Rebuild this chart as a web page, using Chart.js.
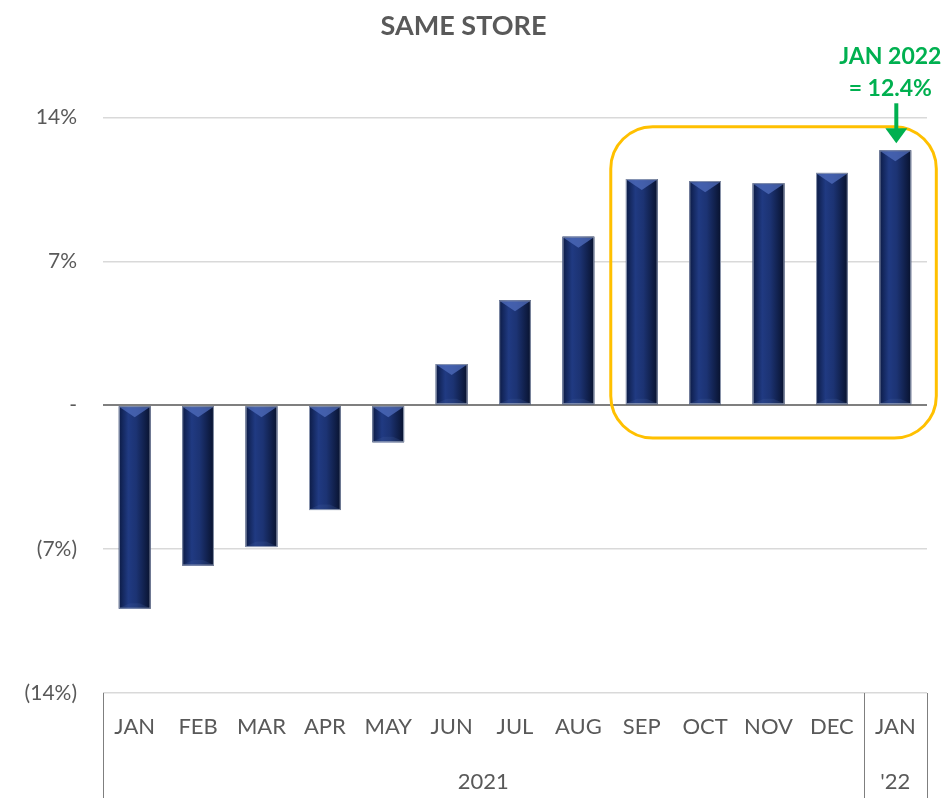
<!DOCTYPE html>
<html>
<head>
<meta charset="utf-8">
<script src="https://cdn.jsdelivr.net/npm/chart.js@4"></script>
<style>
    body { margin: 0; background: #ffffff; }
    #wrap { width: 948px; height: 798px; position: relative; }
</style>
</head>
<body>
<div id="wrap"><canvas id="sameStoreChart"></canvas></div>
<script>
const months = ["JAN", "FEB", "MAR", "APR", "MAY", "JUN", "JUL", "AUG", "SEP", "OCT", "NOV", "DEC", "JAN"];
const sameStore = [-9.9, -7.8, -6.9, -5.1, -1.8, 2.0, 5.1, 8.2, 11.0, 10.9, 10.8, 11.3, 12.4];
const yearLabels = ["2021", "'22"];
const yearStarts = [0, 12];
const yearEnds = [11, 12];
const yTicks = [-14, -7, 0, 7, 14];
const calloutLines = ["JAN 2022", "= 12.4%"];
const highlightFrom = 8;
const highlightTo = 12;

const FONT = "Lato, 'Open Sans', sans-serif";
const GREY_TEXT = "#595959";
const GREEN = "#00B050";

function formatPct(value) {
    if (value === 0) return "-";
    if (value < 0) return `(${Math.abs(value)}%)`;
    return `${value}%`;
}

// bar shading: dark edges, bevel triangle at the top end
const barShading = {
    id: "barShading",
    afterDatasetsDraw(chart) {
        const ctx = chart.ctx;
        const meta = chart.getDatasetMeta(0);

        meta.data.forEach((bar) => {
            const left = bar.x - bar.width / 2;
            const right = bar.x + bar.width / 2;
            const top = Math.min(bar.y, bar.base);
            const bottom = Math.max(bar.y, bar.base);

            const grad = ctx.createLinearGradient(left, 0, right, 0);
            grad.addColorStop(0, "#0C1B45");
            grad.addColorStop(0.3, "#203A82");
            grad.addColorStop(0.55, "#1C3373");
            grad.addColorStop(1, "#08122E");

            ctx.save();
            ctx.fillStyle = grad;
            ctx.fillRect(left, top, right - left, bottom - top);

            const bevel = Math.min(11, (bottom - top) / 2);

            // top bevel
            ctx.fillStyle = "rgba(80,110,190,0.75)";
            ctx.beginPath();
            ctx.moveTo(left + 1, top + 1);
            ctx.lineTo(right - 1, top + 1);
            ctx.lineTo(bar.x, top + bevel);
            ctx.closePath();
            ctx.fill();

            // bottom bevel, faint
            ctx.fillStyle = "rgba(70,95,160,0.22)";
            ctx.beginPath();
            ctx.moveTo(left + 1, bottom - 1);
            ctx.lineTo(right - 1, bottom - 1);
            ctx.lineTo(right - bevel, bottom - bevel * 0.5);
            ctx.lineTo(left + bevel, bottom - bevel * 0.5);
            ctx.closePath();
            ctx.fill();

            ctx.strokeStyle = "rgba(170,180,200,0.8)";
            ctx.lineWidth = 1;
            ctx.strokeRect(left + 0.5, top + 0.5, right - left - 1, bottom - top - 1);
            ctx.restore();
        });
    }
};

// year row and box lines under the month labels
const yearAxis = {
    id: "yearAxis",
    afterDraw(chart) {
        const ctx = chart.ctx;
        const x = chart.scales.x;
        const area = chart.chartArea;
        const step = x.getPixelForValue(1) - x.getPixelForValue(0);

        ctx.save();
        ctx.strokeStyle = "#7F7F7F";
        ctx.lineWidth = 1;

        const dividers = [x.getPixelForValue(0) - step / 2];
        yearEnds.forEach((end) => dividers.push(x.getPixelForValue(end) + step / 2));

        dividers.forEach((px) => {
            ctx.beginPath();
            ctx.moveTo(Math.round(px) + 0.5, area.bottom);
            ctx.lineTo(Math.round(px) + 0.5, chart.height);
            ctx.stroke();
        });

        ctx.fillStyle = GREY_TEXT;
        ctx.font = `22px ${FONT}`;
        ctx.textAlign = "center";
        ctx.textBaseline = "middle";

        yearLabels.forEach((label, i) => {
            const cx = (x.getPixelForValue(yearStarts[i]) + x.getPixelForValue(yearEnds[i])) / 2;
            ctx.fillText(label, cx, area.bottom + 89);
        });

        ctx.restore();
    }
};

// yellow rounded box and green callout
const callout = {
    id: "callout",
    afterDraw(chart) {
        const ctx = chart.ctx;
        const x = chart.scales.x;
        const y = chart.scales.y;
        const lastBar = chart.getDatasetMeta(0).data[highlightTo];

        const left = x.getPixelForValue(highlightFrom) - 31;
        const right = x.getPixelForValue(highlightTo) + 41;
        const top = y.getPixelForValue(13.55);
        const bottom = y.getPixelForValue(-1.6);

        ctx.save();
        ctx.strokeStyle = "#FFC000";
        ctx.lineWidth = 3;
        ctx.beginPath();
        ctx.roundRect(left, top, right - left, bottom - top, 42);
        ctx.stroke();

        // arrow
        const ax = lastBar.x + 1;
        const tip = lastBar.y - 7;
        ctx.strokeStyle = GREEN;
        ctx.fillStyle = GREEN;
        ctx.lineWidth = 4;
        ctx.beginPath();
        ctx.moveTo(ax, tip - 40);
        ctx.lineTo(ax, tip - 12);
        ctx.stroke();
        ctx.beginPath();
        ctx.moveTo(ax - 11, tip - 15);
        ctx.lineTo(ax + 11, tip - 15);
        ctx.lineTo(ax, tip);
        ctx.closePath();
        ctx.fill();

        ctx.font = `bold 23px ${FONT}`;
        ctx.textAlign = "center";
        ctx.textBaseline = "middle";
        ctx.fillText(calloutLines[0], lastBar.x - 5, 57);
        ctx.fillText(calloutLines[1], lastBar.x - 5, 89);
        ctx.restore();
    }
};

const ctx = document.getElementById("sameStoreChart").getContext("2d");

new Chart(ctx, {
    type: "bar",
    data: {
        labels: months,
        datasets: [{
            label: "Same store",
            data: sameStore,
            backgroundColor: "#1B2F6B",
            barPercentage: 0.5,
            categoryPercentage: 1
        }]
    },
    options: {
        responsive: true,
        maintainAspectRatio: false,
        animation: false,
        layout: {
            padding: { left: 0, right: 21, top: 0, bottom: 0 }
        },
        plugins: {
            legend: { display: false },
            tooltip: { enabled: false },
            title: {
                display: true,
                text: "SAME STORE",
                color: GREY_TEXT,
                font: { family: FONT, size: 27, weight: "bold" },
                padding: { top: 10, bottom: 75 }
            }
        },
        scales: {
            x: {
                grid: { display: false, drawTicks: false },
                border: { display: false },
                ticks: {
                    color: GREY_TEXT,
                    font: { family: FONT, size: 22 },
                    padding: 21,
                    maxRotation: 0,
                    autoSkip: false
                },
                afterFit(scale) {
                    scale.height = 105;
                }
            },
            y: {
                min: -14,
                max: 14,
                afterBuildTicks(scale) {
                    scale.ticks = yTicks.map((v) => ({ value: v }));
                },
                grid: {
                    drawTicks: false,
                    color: (c) => (c.tick && c.tick.value === 0 ? "#7F7F7F" : "#D9D9D9"),
                    lineWidth: (c) => (c.tick && c.tick.value === 0 ? 2 : 1.5)
                },
                border: { display: false },
                ticks: {
                    color: GREY_TEXT,
                    font: { family: FONT, size: 21 },
                    padding: 26,
                    callback: (value) => formatPct(value)
                },
                afterFit(scale) {
                    scale.width = 103;
                }
            }
        }
    },
    plugins: [barShading, yearAxis, callout]
});
</script>
</body>
</html>
